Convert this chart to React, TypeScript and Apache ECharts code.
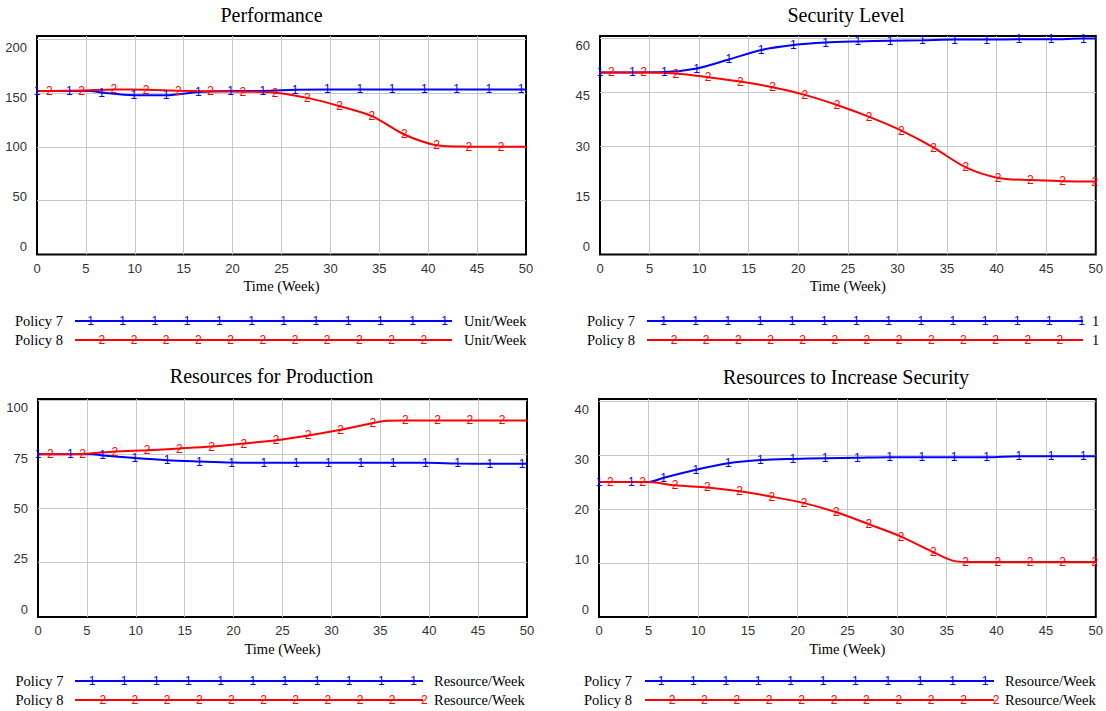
import React, { useEffect, useRef } from "react";
import * as echarts from "echarts";

// ---------- shared ticks ----------
const xTicks = [0, 5, 10, 15, 20, 25, 30, 35, 40, 45, 50];

// marker times (Vensim "1" / "2" symbols) for the two plot widths
const marksA7 = [0, 3.3, 6.6, 9.9, 13.2, 16.5, 19.8, 23.1, 26.4, 29.7, 33, 36.3, 39.6, 42.9, 46.2, 49.5];
const marksA8 = [1.25, 4.55, 7.85, 11.15, 14.45, 17.75, 21.05, 24.35, 27.65, 30.95, 34.25, 37.55, 40.85, 44.15, 47.45];
const marksB7 = [0, 3.25, 6.5, 9.75, 13, 16.25, 19.5, 22.75, 26, 29.25, 32.5, 35.75, 39, 42.25, 45.5, 48.75];
const marksB8 = [1.15, 4.4, 7.65, 10.9, 14.15, 17.4, 20.65, 23.9, 27.15, 30.4, 33.65, 36.9, 40.15, 43.4, 46.65, 49.9];

// ---------- Performance ----------
const perfYTicks = [0, 50, 100, 150, 200];
const perfYMax = 203;
const perfT7 = [0, 3.3, 5.5, 6.6, 9.9, 13.2, 16.5, 19.8, 23.1, 26.4, 29.7, 33, 36.3, 39.6, 42.9, 46.2, 49.5, 50];
const perfV7 = [152, 152, 152, 150.5, 148, 148, 151, 152, 152, 153, 153.3, 153.3, 153.3, 153.3, 153.3, 153.3, 153.3, 153.3];
const perfT8 = [0, 1.25, 4.55, 7.85, 11.15, 14.45, 17.75, 21.05, 24.35, 27.65, 30.95, 34.25, 37.55, 40.85, 44.15, 47.45, 50];
const perfV8 = [152, 152, 152.3, 153.3, 153, 152.2, 151.5, 151.3, 150.3, 145.5, 137.8, 128.5, 111.5, 101.6, 100.2, 100, 100];

// ---------- Security Level ----------
const secYTicks = [0, 15, 30, 45, 60];
const secYMax = 60.5;
const secT7 = [0, 3.25, 6.5, 9.75, 13, 16.25, 19.5, 22.75, 26, 29.25, 32.5, 35.75, 39, 42.25, 45.5, 48.75, 50];
const secV7 = [50.4, 50.4, 50.5, 51.5, 54.0, 56.6, 58.0, 58.7, 59.0, 59.2, 59.3, 59.5, 59.5, 59.6, 59.6, 59.8, 59.8];
const secT8 = [0, 1.15, 4.4, 7.65, 10.9, 14.15, 17.4, 20.65, 23.9, 27.15, 30.4, 33.65, 36.9, 40.15, 43.4, 46.65, 49.9, 50];
const secV8 = [50.4, 50.4, 50.4, 50.1, 49.1, 47.9, 46.3, 44.2, 41.4, 38.1, 34.3, 29.6, 24.1, 21.2, 20.6, 20.3, 20.2, 20.2];

// ---------- Resources for Production ----------
const prodYTicks = [0, 25, 50, 75, 100];
const prodYMax = 100.4;
const prodT7 = [0, 3.3, 5.5, 6.6, 9.9, 13.2, 16.5, 19.8, 23.1, 26.4, 29.7, 33, 36.3, 39.6, 42.9, 46.2, 49.5, 50];
const prodV7 = [75, 75, 75, 74.4, 73.2, 72.2, 71.6, 71.1, 71, 71, 71, 71, 71, 71, 70.7, 70.6, 70.6, 70.6];
const prodT8 = [0, 1.25, 4.55, 7.85, 11.15, 14.45, 17.75, 21.05, 24.35, 27.65, 30.95, 34.25, 35.6, 37.55, 40.85, 44.15, 47.45, 50];
const prodV8 = [75, 75, 75.1, 76.2, 76.8, 77.6, 78.5, 79.9, 81.4, 83.6, 86.2, 89.3, 90.4, 90.5, 90.5, 90.5, 90.5, 90.5];

// ---------- Resources to Increase Security ----------
const incYTicks = [0, 10, 20, 30, 40];
const incYMax = 40.4;
const incT7 = [0, 3.25, 5, 6.5, 9.75, 13, 16.25, 19.5, 22.75, 26, 29.25, 32.5, 35.75, 39, 42.25, 45.5, 48.75, 50];
const incV7 = [25, 25, 25, 25.8, 27.3, 28.5, 29.1, 29.3, 29.4, 29.5, 29.6, 29.6, 29.6, 29.6, 29.8, 29.8, 29.8, 29.8];
const incT8 = [0, 1.15, 4.4, 5, 7.65, 10.9, 14.15, 17.4, 20.65, 23.9, 27.15, 30.4, 33.65, 35.5, 36.9, 40.15, 43.4, 46.65, 49.9, 50];
const incV8 = [25, 25, 25, 25, 24.4, 24, 23.3, 22.3, 21.1, 19.4, 17.2, 14.9, 12, 10.5, 10.2, 10.2, 10.2, 10.2, 10.2, 10.2];

const seriesNames = ["Policy 7", "Policy 8"];
const xName = "Time (Week)";

const BLUE = "#0000ff";
const RED = "#ff0000";
const SERIF = "Liberation Serif, Times New Roman, serif";
const SANS = "Liberation Sans, Arial, sans-serif";

const panels = [
  {
    title: "Performance", titleX: 271.5, titleY: 15,
    grid: { left: 37, top: 36, width: 489, height: 218.5 },
    yTicks: perfYTicks, yMax: perfYMax,
    t7: perfT7, v7: perfV7, m7: marksA7, t8: perfT8, v8: perfV8, m8: marksA8,
    unit: "Unit/Week",
    lg: { y7: 321, y8: 340, labelX: 15, x1: 75, x2: 452, m7x: 90.5, m7n: 12, m8x: 101.8, m8n: 11, step: 32.2, unitX: 464 },
  },
  {
    title: "Security Level", titleX: 846, titleY: 15,
    grid: { left: 600, top: 36, width: 498, height: 218.5 },
    yTicks: secYTicks, yMax: secYMax,
    t7: secT7, v7: secV7, m7: marksB7, t8: secT8, v8: secV8, m8: marksB8,
    unit: "1",
    lg: { y7: 321, y8: 340, labelX: 587, x1: 647, x2: 1083, m7x: 663.5, m7n: 14, m8x: 674, m8n: 13, step: 32.16, unitX: 1092 },
  },
  {
    title: "Resources for Production", titleX: 271.5, titleY: 376,
    grid: { left: 38, top: 399, width: 489, height: 218 },
    yTicks: prodYTicks, yMax: prodYMax,
    t7: prodT7, v7: prodV7, m7: marksA7, t8: prodT8, v8: prodV8, m8: marksA8,
    unit: "Resource/Week",
    lg: { y7: 681, y8: 700, labelX: 15.5, x1: 75, x2: 423, m7x: 92, m7n: 11, m8x: 102.8, m8n: 11, step: 32.15, unitX: 434 },
  },
  {
    title: "Resources to Increase Security", titleX: 846, titleY: 377,
    grid: { left: 599, top: 399, width: 499, height: 218 },
    yTicks: incYTicks, yMax: incYMax,
    t7: incT7, v7: incV7, m7: marksB7, t8: incT8, v8: incV8, m8: marksB8,
    unit: "Resource/Week",
    lg: { y7: 681, y8: 700, labelX: 584, x1: 645, x2: 994, m7x: 661, m7n: 11, m8x: 672, m8n: 11, step: 32.4, unitX: 1005 },
  },
];

function lineSeries(idx: number, name: string, t: number[], v: number[], marks: number[], color: string, ch: string) {
  return {
    type: "line",
    name,
    xAxisIndex: idx,
    yAxisIndex: idx,
    data: t.map((x, i) => [x, v[i]]),
    smooth: 0.3,
    symbol: "circle",
    symbolSize: 1,
    showSymbol: true,
    showAllSymbol: true,
    itemStyle: { color },
    lineStyle: { color, width: 2 },
    label: {
      show: true,
      position: "inside",
      formatter: (p: any) => (marks.some((m) => Math.abs(m - p.value[0]) < 1e-6) ? ch : ""),
      color,
      fontSize: 12,
      fontFamily: SANS,
    },
    emphasis: { disabled: true },
    silent: true,
  };
}

function yAxisFor(idx: number, ticks: number[], max: number) {
  const mid = ticks[2];
  const top = ticks[ticks.length - 1];
  const rich: Record<string, any> = {};
  ticks.forEach((tv, i) => {
    const s = ((tv - mid) / (top - mid)) * 8;
    rich["s" + i] = {
      fontSize: 13,
      fontFamily: SANS,
      color: "#333",
      padding: s >= 0 ? [2 * s, 0, 0, 0] : [0, 0, -2 * s, 0],
    };
  });
  return {
    type: "value",
    gridIndex: idx,
    min: 0,
    max,
    interval: ticks[1] - ticks[0],
    axisLine: { show: false },
    axisTick: { show: false },
    axisLabel: {
      margin: 10,
      fontSize: 13,
      fontFamily: SANS,
      color: "#333",
      formatter: (val: number) => {
        const i = ticks.findIndex((tv) => Math.abs(tv - val) < 1e-6);
        return i < 0 ? "" : `{s${i}|${ticks[i]}}`;
      },
      rich,
    },
    splitLine: { show: true, showMinLine: false, showMaxLine: false, lineStyle: { color: "#c8c8c8", width: 1 } },
  };
}

function xAxisFor(idx: number) {
  return {
    type: "value",
    gridIndex: idx,
    min: 0,
    max: 50,
    interval: 5,
    axisLine: { show: false },
    axisTick: { show: false },
    axisLabel: {
      margin: 7,
      fontSize: 13,
      fontFamily: SANS,
      color: "#333",
      showMinLabel: true,
      showMaxLabel: true,
      formatter: (v: number) => (xTicks.some((x) => Math.abs(x - v) < 1e-6) ? String(v) : ""),
    },
    splitLine: { show: true, showMinLine: false, showMaxLine: false, lineStyle: { color: "#c8c8c8", width: 1 } },
    name: xName,
    nameLocation: "middle",
    nameGap: 24,
    nameTextStyle: { fontFamily: SERIF, fontSize: 14.5, color: "#000" },
  };
}

function legendGraphics(p: any) {
  const g: any[] = [];
  const lg = p.lg;
  const txt = (x: number, y: number, text: string, opts: any = {}) => ({
    type: "text",
    x,
    y,
    silent: true,
    style: {
      text,
      fontFamily: SERIF,
      fontSize: 14.5,
      fill: "#000",
      align: "left",
      verticalAlign: "middle",
      ...opts,
    },
  });
  // title
  g.push(txt(p.titleX, p.titleY, p.title, { fontSize: 20, align: "center" }));
  // rows
  const rows = [
    { y: lg.y7, color: BLUE, ch: "1", x0: lg.m7x, n: lg.m7n, name: seriesNames[0] },
    { y: lg.y8, color: RED, ch: "2", x0: lg.m8x, n: lg.m8n, name: seriesNames[1] },
  ];
  rows.forEach((r) => {
    g.push(txt(lg.labelX, r.y, r.name));
    g.push({
      type: "line",
      silent: true,
      shape: { x1: lg.x1, y1: r.y, x2: lg.x2, y2: r.y },
      style: { stroke: r.color, lineWidth: 2 },
    });
    for (let k = 0; k < r.n; k++) {
      g.push(txt(r.x0 + k * lg.step, r.y, r.ch, { fontFamily: SANS, fontSize: 12, fill: r.color, align: "center" }));
    }
    g.push(txt(lg.unitX, r.y, p.unit));
  });
  return g;
}

export default function App() {
  const ref = useRef<HTMLDivElement>(null);
  useEffect(() => {
    if (!ref.current) return;
    const chart = echarts.init(ref.current, undefined, { renderer: "svg" });
    const option: any = {
      animation: false,
      backgroundColor: "#fff",
      grid: panels.map((p) => ({
        ...p.grid,
        show: true,
        borderColor: "#000",
        borderWidth: 2,
        backgroundColor: "transparent",
        containLabel: false,
      })),
      xAxis: panels.map((_, i) => xAxisFor(i)),
      yAxis: panels.map((p, i) => yAxisFor(i, p.yTicks, p.yMax)),
      series: panels.flatMap((p, i) => [
        lineSeries(i, seriesNames[0], p.t7, p.v7, p.m7, BLUE, "1"),
        lineSeries(i, seriesNames[1], p.t8, p.v8, p.m8, RED, "2"),
      ]),
      graphic: panels.flatMap((p) => legendGraphics(p)),
    };
    chart.setOption(option);
    return () => chart.dispose();
  }, []);
  return (
    <div
      ref={ref}
      style={{ position: "fixed", left: 0, top: 0, width: 1106, height: 711, background: "#fff" }}
    />
  );
}
